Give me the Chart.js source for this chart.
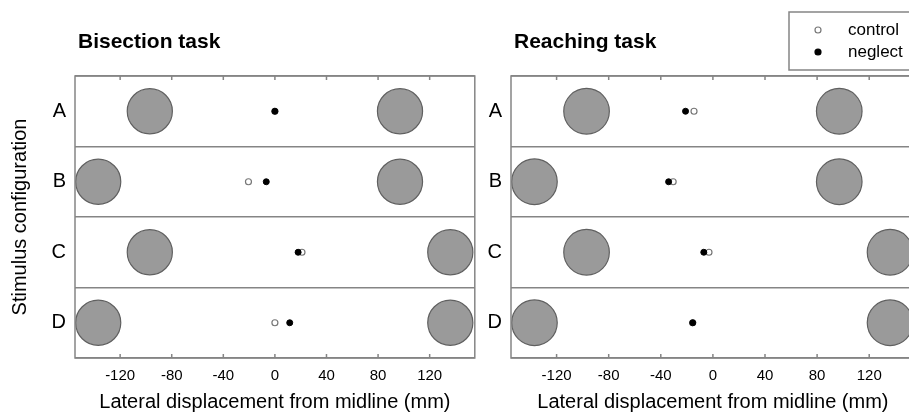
<!DOCTYPE html>
<html>
<head>
<meta charset="utf-8">
<title>Bisection and reaching</title>
<script src="https://cdn.jsdelivr.net/npm/chart.js@4.4.0/dist/chart.umd.min.js"></script>
<style>
  html, body { margin: 0; padding: 0; background: #fff; overflow: hidden; width: 909px; height: 414px; }
  canvas { position: absolute; top: 0; }
  #bisection { left: 0; }
  #reaching { left: 480px; }
</style>
</head>
<body>
<canvas id="bisection" width="480" height="414"></canvas>
<canvas id="reaching" width="440" height="414"></canvas>
<script>
// stimulus configurations, top to bottom
const rows = ['A', 'B', 'C', 'D'];
const xTicks = [-120, -80, -40, 0, 40, 80, 120];

// stimulus centres (mm from midline) and their diameter
const stimLeft = [-97, -137, -97, -137];
const stimRight = [97, 97, 136, 136];
const stimSize = 35;

// mean responses per configuration (mm)
const bisectControl = [0, -20.5, 21, 0];
const bisectNeglect = [0, -6.7, 18, 11.5];
const reachControl = [-14.5, -30.5, -3, -15.5];
const reachNeglect = [-21, -34, -7, -15.5];

const FONT = '"Liberation Sans", Arial, Helvetica, sans-serif';
const LINE = '#858585';

function pts(xs) {
  return xs.map((x, i) => ({ x: x, y: rows[i] }));
}

// radius in px of a stimulus, taken from the x scale so it stays in mm
function stimRadius(ctx) {
  const x = ctx.chart.scales.x;
  return Math.abs(x.getPixelForValue(stimSize / 2) - x.getPixelForValue(0));
}

// box around the plot, inward ticks on top and bottom, panel title
const framePlugin = {
  id: 'frame',
  afterDatasetsDraw(chart, args, opts) {
    const { ctx, chartArea: a, scales: { x } } = chart;
    ctx.save();
    ctx.strokeStyle = LINE;
    ctx.lineWidth = 1.5;
    ctx.strokeRect(a.left, a.top, a.right - a.left, a.bottom - a.top);
    ctx.beginPath();
    x.ticks.forEach(t => {
      const px = x.getPixelForValue(t.value);
      ctx.moveTo(px, a.top);
      ctx.lineTo(px, a.top + 4);
      ctx.moveTo(px, a.bottom);
      ctx.lineTo(px, a.bottom - 4);
    });
    ctx.stroke();
    ctx.fillStyle = '#000';
    ctx.font = 'bold 21px ' + FONT;
    ctx.textBaseline = 'alphabetic';
    ctx.fillText(opts.title, a.left + 3, 48);
    ctx.restore();
  }
};

// boxed key for the two groups
const keyPlugin = {
  id: 'key',
  afterDraw(chart, args, opts) {
    if (!opts.show) return;
    const ctx = chart.ctx;
    ctx.save();
    ctx.strokeStyle = LINE;
    ctx.lineWidth = 1.5;
    ctx.strokeRect(opts.left, 12, 200, 58);
    ctx.font = '17px ' + FONT;
    ctx.textBaseline = 'middle';
    const items = chart.data.datasets.filter(d => d.inKey);
    items.sort((p, q) => p.keyPos - q.keyPos);
    items.forEach((d, i) => {
      const y = 30 + i * 22;
      ctx.beginPath();
      ctx.arc(opts.left + 29, y, 3, 0, Math.PI * 2);
      ctx.fillStyle = d.backgroundColor;
      ctx.fill();
      ctx.lineWidth = 1.2;
      ctx.strokeStyle = d.borderColor;
      ctx.stroke();
      ctx.fillStyle = '#000';
      ctx.fillText(d.label, opts.left + 59, y);
    });
    ctx.restore();
  }
};

function makePanel(id, title, control, neglect, opts) {
  return new Chart(document.getElementById(id), {
    type: 'scatter',
    data: {
      datasets: [
        {
          label: 'neglect', inKey: true, keyPos: 1,
          data: pts(neglect),
          backgroundColor: '#000', borderColor: '#000',
          pointRadius: 3, borderWidth: 1, order: 0
        },
        {
          label: 'control', inKey: true, keyPos: 0,
          data: pts(control),
          backgroundColor: '#fff', borderColor: '#777',
          pointRadius: 3, borderWidth: 1.2, order: 1
        },
        {
          label: 'stimulus',
          data: pts(stimLeft).concat(pts(stimRight)),
          backgroundColor: '#9a9a9a', borderColor: '#606060',
          pointRadius: stimRadius, borderWidth: 1.2, order: 2
        }
      ]
    },
    options: {
      responsive: false,
      animation: false,
      layout: { padding: { top: 76, left: 0, right: opts.padRight, bottom: 0 } },
      plugins: {
        legend: { display: false },
        tooltip: { enabled: false },
        frame: { title: title },
        key: { show: opts.key, left: opts.keyLeft }
      },
      scales: {
        x: {
          type: 'linear',
          min: -155,
          max: 155,
          afterBuildTicks: s => { s.ticks = xTicks.map(v => ({ value: v })); },
          afterFit: s => { s.height = 56; },
          grid: { display: false },
          border: { display: false },
          ticks: {
            padding: 1,
            color: '#000',
            font: { family: FONT, size: 15 },
            callback: v => String(v)
          },
          title: {
            display: true,
            text: 'Lateral displacement from midline (mm)',
            color: '#000',
            font: { family: FONT, size: 20 },
            padding: { top: 0, bottom: 0 }
          }
        },
        y: {
          type: 'category',
          labels: rows,
          offset: true,
          afterFit: s => { s.width = opts.yWidth; },
          grid: { offset: true, color: LINE, lineWidth: 1.5, drawTicks: false },
          border: { display: false },
          ticks: {
            padding: 9,
            color: '#000',
            font: { family: FONT, size: 20 }
          },
          title: {
            display: opts.yTitle,
            text: 'Stimulus configuration',
            color: '#000',
            font: { family: FONT, size: 20 },
            padding: { top: 8, bottom: 0 }
          }
        }
      }
    },
    plugins: [framePlugin, keyPlugin]
  });
}

makePanel('bisection', 'Bisection task', bisectControl, bisectNeglect,
  { padRight: 3, yWidth: 75, yTitle: true, key: false, keyLeft: 0 });
makePanel('reaching', 'Reaching task', reachControl, reachNeglect,
  { padRight: 5, yWidth: 31, yTitle: false, key: true, keyLeft: 309 });
</script>
</body>
</html>
